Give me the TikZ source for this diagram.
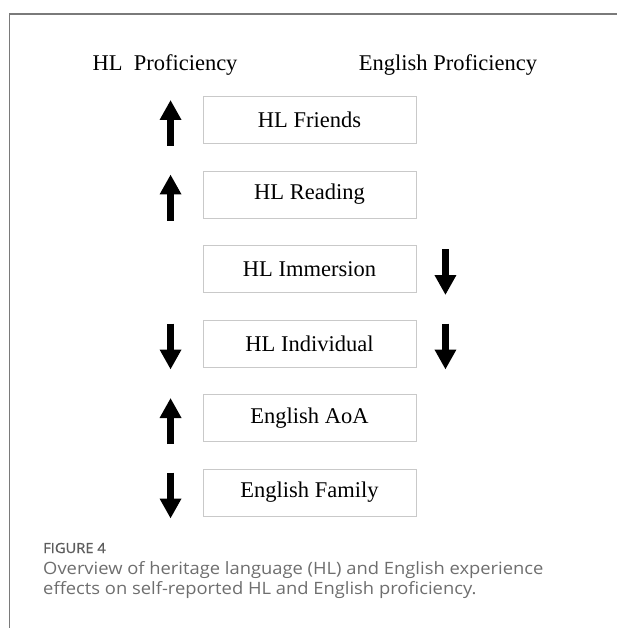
\documentclass[tikz,border=0pt]{standalone}
\usepackage{fontspec}
\usepackage{tikz}
\usetikzlibrary{arrows.meta,positioning,calc}
\newfontfamily\figfont{Liberation Serif}
\newfontfamily\capfont[FakeStretch=1.08]{Open Sans}
\newfontfamily\labfont[FakeStretch=1.05,FakeBold=0.8]{Open Sans}
\definecolor{framegray}{HTML}{7A7A7A}
\definecolor{boxgray}{HTML}{C9C9C9}
\definecolor{capgray}{HTML}{6E6E6E}
\definecolor{labgray}{HTML}{5C5C5C}

\begin{document}
\begin{tikzpicture}[x=1pt, y=-1pt,
		factor/.style={draw=boxgray, line width=0.9pt, minimum width=213pt, minimum height=47pt, inner sep=0pt, font=\figfont\fontsize{22.5}{26}\selectfont},
		effect/.style={line width=7.3pt, -{Triangle[width=20.5pt,length=20pt]}}]
		%%%%% START %%%%%
		
		\useasboundingbox (0, 0) rectangle (616, 628);
		\draw[line width=1.3pt, color=framegray] (9.3, 630) -- (9.3, 14) -- (620, 14);
		
		\node[font=\figfont\fontsize{22.5}{26}\selectfont] (hlprof) at (165, 65) {HL\ \ Proficiency};
		\node[font=\figfont\fontsize{22.5}{26}\selectfont] (enprof) at (448, 65) {English Proficiency};
		
		\node[factor] (friends) at (309.5, 120) {HL Friends};
		\node[factor, below=26.6pt of friends] (reading) {HL Reading};
		\node[factor, below=26.6pt of reading] (immersion) {HL Immersion};
		\node[factor, below=26.6pt of immersion] (individual) {HL Individual};
		\node[factor, below=26.6pt of individual] (aoa) {English AoA};
		\node[factor, below=26.6pt of aoa] (family) {English Family};
		
		% HL proficiency
		\draw[effect] ($(friends.west)+(-32, 26)$) -- ++(0, -46);
		\draw[effect] ($(reading.west)+(-32, 26)$) -- ++(0, -46);
		\draw[effect] ($(individual.west)+(-32, -20)$) -- ++(0, 46);
		\draw[effect] ($(aoa.west)+(-32, 26)$) -- ++(0, -46);
		\draw[effect] ($(family.west)+(-32, -20)$) -- ++(0, 46);
		
		% English proficiency
		\draw[effect] ($(immersion.east)+(29, -20)$) -- ++(0, 46);
		\draw[effect] ($(individual.east)+(29, -20)$) -- ++(0, 46);
		
		\node[anchor=base west, inner sep=0pt, text=labgray, font=\labfont\fontsize{14}{16}\selectfont] (figlabel) at (43, 553) {FIGURE 4};
		\node[anchor=base west, inner sep=0pt, text=capgray, align=left, font=\capfont\fontsize{17}{20.5}\selectfont] (caption) at (43, 594.5) {Overview of heritage language (HL) and English experience\\effects on self-reported HL and English proficiency.};
		
		%%%%% END %%%%%
	\end{tikzpicture}
\end{document}
